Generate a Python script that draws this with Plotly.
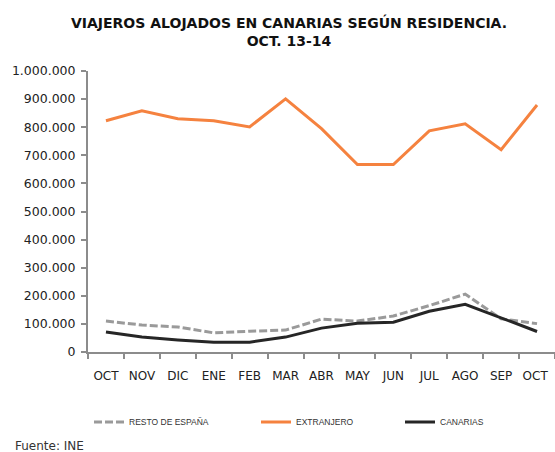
import plotly.graph_objects as go

meses = ["OCT", "NOV", "DIC", "ENE", "FEB", "MAR", "ABR",
         "MAY", "JUN", "JUL", "AGO", "SEP", "OCT "]

resto_espana = [110000, 96000, 89000, 68000, 74000, 78000, 117000,
                110000, 128000, 165000, 206000, 118000, 101000]
extranjero = [823000, 858000, 830000, 823000, 801000, 901000, 795000,
              667000, 667000, 787000, 812000, 720000, 879000]
canarias = [71000, 53000, 43000, 35000, 35000, 53000, 85000,
            102000, 106000, 145000, 170000, 121000, 73000]

FONT = "DejaVu Sans, Verdana, sans-serif"
LEG_FONT = "Liberation Sans, Arial, sans-serif"

fig = go.Figure()

series = [
    ("RESTO DE ESPAÑA", resto_espana, dict(color="#9a9a9a", width=3, dash="8px,3px"), "legend", 89),
    ("EXTRANJERO", extranjero, dict(color="#f5823f", width=3), "legend2", 256),
    ("CANARIAS", canarias, dict(color="#262626", width=3), "legend3", 400),
]
legends = {}
for name, vals, line, leg, lx in series:
    fig.add_trace(go.Scatter(x=meses, y=vals, name=name, mode="lines",
                             line=line, legend=leg, showlegend=True))
    legends[leg] = dict(
        orientation="h", xref="container", yref="container",
        x=lx / 555, y=1 - 422 / 452, xanchor="left", yanchor="middle",
        font=dict(family=LEG_FONT, size=8.5, color="#333333"),
        bgcolor="rgba(0,0,0,0)", visible=True,
    )

fig.update_layout(
    width=555, height=452,
    margin=dict(l=88, r=0, t=71, b=100, autoexpand=False),
    paper_bgcolor="white", plot_bgcolor="white",
    separators=",.", showlegend=True,
    font=dict(family=FONT, color="#222222"),
    title=dict(
        text="VIAJEROS ALOJADOS EN CANARIAS SEGÚN RESIDENCIA.<br>OCT. 13-14",
        x=289 / 555, xanchor="center", y=1 - 28 / 452, yanchor="middle",
        font=dict(family=FONT, size=14, color="#111111", weight="bold"),
    ),
    annotations=[dict(text="Fuente: INE", xref="paper", yref="paper",
                      x=-75 / 467, y=-94 / 281, xanchor="left", yanchor="middle",
                      showarrow=False,
                      font=dict(family=FONT, size=12, color="#333333"))],
    **legends,
)

fig.update_xaxes(
    showline=True, linecolor="#8c8c8c", linewidth=2,
    ticks="outside", ticklen=5, tickcolor="#8c8c8c", tickwidth=1.5,
    tickson="boundaries", range=[-0.5, 12.5], showgrid=False,
    tickangle=0, automargin=False, ticklabelstandoff=12,
    tickfont=dict(family=FONT, size=12, color="#222222"),
)
fig.update_yaxes(
    range=[0, 1000000], dtick=100000, tickformat=",d",
    showline=True, linecolor="#8c8c8c", linewidth=2,
    ticks="outside", ticklen=5, tickcolor="#8c8c8c", tickwidth=1.5,
    showgrid=False, zeroline=False, automargin=False, ticklabelstandoff=3,
    tickfont=dict(family=FONT, size=12.5, color="#222222"),
)

fig.write_html("out.html", config={"displayModeBar": False},
               post_script="document.body.style.margin='0';")
